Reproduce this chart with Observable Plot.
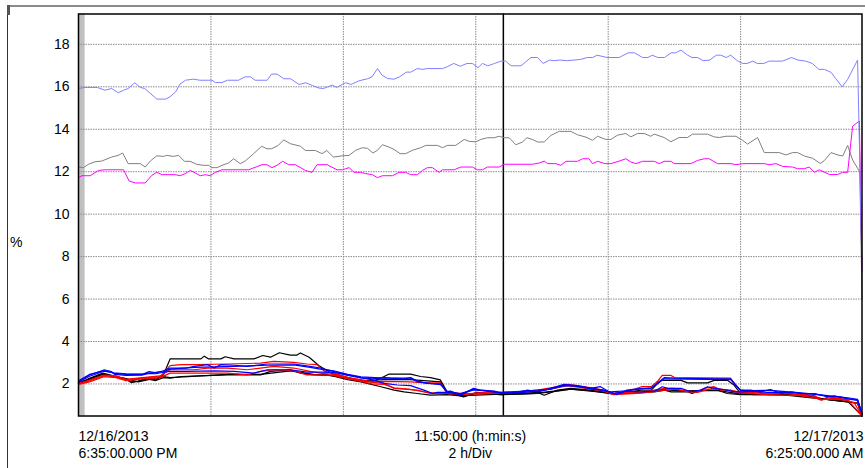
<!DOCTYPE html>
<html><head><meta charset="utf-8">
<script src="https://cdn.jsdelivr.net/npm/d3@7"></script>
<script src="https://cdn.jsdelivr.net/npm/@observablehq/plot@0.6"></script>
<style>
body{margin:0;background:#fff;font-family:"Liberation Sans",Arial,sans-serif;}
#wrap{position:relative;width:865px;height:468px;overflow:hidden;background:#fff;}
#frame{position:absolute;left:7px;top:5px;width:870px;height:480px;border-top:2px solid #8a8a8a;border-left:1px solid #333;box-sizing:border-box;}
#corner{position:absolute;left:7px;top:5px;width:3px;height:10px;background:#555;}
#chart{position:absolute;left:0;top:0;}
#ylab{position:absolute;left:10px;top:235px;font-size:14px;line-height:14px;color:#000;}
</style></head><body>
<div id="wrap"><div id="frame"></div><div id="corner"></div><div id="chart"></div><div id="ylab">%</div></div>
<script>
// time axis: minutes after 12/16/2013 6:35 PM
const startTime = Date.UTC(2013, 11, 16, 18, 35);
const spanMinutes = 710;
const gridMinutes = [120, 240, 360, 480, 600];
const cursorMinute = 385;
const bandMinutes = [0, 6];
const yTicks = [2, 4, 6, 8, 10, 12, 14, 16, 18];
const yDomain = [0.49, 19.43];
const xLabels = [
  {m: 0, text: "12/16/2013\n6:35:00.000 PM", anchor: "start"},
  {m: 355, text: "11:50:00 (h:min:s)\n2 h/Div", anchor: "middle"},
  {m: 710, text: "12/17/2013\n6:25:00.000 AM", anchor: "end"}
];

// series [minute, %]
const topBlue = [[0,15.92],[6,15.97],[17,15.97],[24,15.84],[30,15.92],[36,15.72],[41,15.84],[45,15.92],[51,16.19],[56,15.97],[60,15.92],[71,15.42],[79,15.42],[83,15.53],[88,15.76],[92,16.13],[97,16.31],[104,16.36],[110,16.31],[121,16.31],[124,16.2],[130,16.2],[135,16.31],[145,16.31],[151,16.47],[156,16.47],[160,16.31],[171,16.31],[175,16.6],[180,16.6],[186,16.38],[192,16.38],[200,16.11],[206,16.19],[212,16.06],[218,15.94],[222,15.92],[230,16.08],[234,15.97],[239,16.11],[242,16.19],[247,16.11],[254,16.28],[262,16.38],[266,16.47],[271,16.86],[275,16.55],[280,16.39],[286,16.36],[291,16.47],[297,16.69],[301,16.69],[307,16.86],[312,16.82],[316,16.86],[330,16.86],[334,16.94],[340,17.1],[346,16.97],[352,17.1],[357,17.1],[362,16.9],[366,17.1],[371,16.99],[377,17.1],[383,17.21],[387,17.21],[392,16.99],[401,16.99],[410,17.38],[416,17.38],[421,17.1],[427,17.26],[431,17.23],[436,17.26],[443,17.23],[455,17.29],[461,17.38],[466,17.38],[470,17.49],[479,17.38],[490,17.38],[498,17.6],[504,17.6],[511,17.38],[516,17.38],[520,17.49],[525,17.38],[531,17.38],[537,17.6],[541,17.6],[546,17.73],[552,17.49],[556,17.38],[561,17.38],[566,17.23],[572,17.26],[578,17.49],[582,17.49],[587,17.38],[591,17.49],[597,17.23],[602,17.1],[606,17.1],[611,17.21],[615,17.1],[621,17.1],[626,17.21],[638,17.21],[646,17.38],[652,17.26],[659,17.21],[665,17.1],[671,16.82],[676,16.82],[682,16.68],[686,16.4],[692,16.0],[697,16.35],[702,16.86],[706,17.26],[710,7.5]];
const topGray = [[0,12.22],[4.5,12.19],[9,12.35],[15,12.47],[21,12.5],[30,12.69],[36,12.77],[40,12.88],[45,12.38],[56,12.38],[60.5,12.22],[65,12.5],[71,12.75],[77,12.72],[80,12.77],[86,12.72],[90.7,12.77],[96,12.49],[101,12.49],[107,12.35],[113,12.3],[118,12.3],[121,12.19],[125.5,12.19],[130,12.3],[136,12.41],[140.6,12.61],[146.6,12.38],[151,12.5],[158.7,12.85],[166,13.2],[170.8,13.08],[175,13.08],[181,13.24],[186,13.5],[192,13.32],[201,13.2],[205.6,13.0],[214.6,13.0],[220.7,12.85],[225,13.0],[231,12.69],[239.4,12.75],[245.2,12.77],[251.2,13.01],[257.2,13.13],[261.8,13.1],[266.9,12.88],[270.9,13.01],[275.4,13.27],[281.4,13.16],[286,13.05],[291.4,12.85],[296.5,12.85],[302.6,13.01],[310.2,13.13],[314.7,13.24],[325.3,13.24],[329.8,13.13],[334.3,13.24],[341.9,13.24],[349.5,13.52],[354,13.43],[360,13.41],[364.6,13.52],[370.6,13.6],[376.7,13.6],[381.2,13.67],[385.7,13.6],[390.3,13.6],[396.3,13.27],[402.4,13.4],[406.3,13.6],[411.4,13.52],[416,13.4],[422,13.4],[428,13.71],[435.6,13.9],[446.2,13.9],[452.2,13.74],[459.8,13.63],[465.8,13.48],[470.4,13.67],[477.8,13.52],[482.4,13.52],[488.4,13.72],[496,13.8],[500.5,13.64],[506.5,13.8],[512.6,13.8],[518.6,13.67],[521.7,13.77],[530.7,13.61],[536.8,13.41],[544.3,13.61],[551.9,13.61],[556.4,13.77],[570,13.77],[576,13.64],[580.6,13.61],[586.7,13.67],[595.7,13.67],[601.8,13.48],[606.3,13.3],[615.4,13.61],[621.4,12.9],[635,12.9],[641,12.79],[647.1,12.9],[651.7,12.9],[657.7,12.74],[665.3,12.63],[672.2,12.39],[675.8,12.52],[681.9,12.9],[687.9,12.79],[692.5,12.74],[697,13.24],[701.5,12.55],[706,12.16],[708,11.99],[710,6.0]];
const topMagenta = [[0,11.72],[3,11.81],[10.6,11.81],[18.1,12.06],[24.2,12.09],[40.8,12.09],[45.9,11.56],[51.4,11.47],[60.5,11.47],[66.5,11.83],[71,11.97],[75.6,11.86],[87.7,11.86],[92.2,11.81],[96.7,11.91],[101.3,12.06],[105.8,11.94],[110.3,11.81],[114.9,11.86],[119.4,11.81],[124,11.97],[130,12.09],[154.2,12.09],[166.3,12.33],[170.8,12.33],[175.3,12.19],[179.9,12.3],[185,12.49],[190.4,12.33],[196.5,12.33],[205.6,12.06],[211.6,11.97],[216.1,12.33],[225.2,12.33],[234.3,12.09],[239.4,12.09],[242.1,12.14],[245.2,12.19],[249.7,11.97],[255.7,11.97],[260.3,11.91],[266.3,11.86],[270.9,11.72],[275.4,11.81],[284.5,11.81],[290.5,11.97],[296.5,11.97],[301.1,11.86],[307.1,11.86],[311.7,12.06],[316.2,12.19],[320.7,12.19],[326.8,11.97],[329.8,12.09],[340.4,12.09],[346.4,12.22],[357,12.22],[361.5,12.09],[366.1,12.09],[370.6,12.22],[381.2,12.22],[385.7,12.35],[411.4,12.35],[417.5,12.41],[422,12.5],[425,12.38],[432.6,12.38],[437.1,12.3],[441.7,12.49],[452.2,12.49],[456.8,12.61],[462.5,12.61],[465.8,12.38],[470.4,12.49],[477,12.38],[482.4,12.38],[490,12.5],[496,12.61],[500.5,12.46],[505,12.38],[511.1,12.49],[521.7,12.49],[526.2,12.38],[530.7,12.49],[536.8,12.49],[539.8,12.38],[554.9,12.38],[561,12.53],[567,12.61],[571.5,12.61],[579.1,12.38],[591.2,12.38],[595.7,12.33],[601.8,12.38],[621.4,12.38],[626,12.33],[632,12.38],[638,12.25],[647.1,12.22],[651.7,12.14],[657.7,12.14],[662.2,12.22],[666.8,11.97],[671.3,12.09],[680.4,11.87],[688,11.87],[692.5,11.97],[697,11.97],[701.5,14.14],[707.6,14.39],[710,7.3]];

const blue1 = [[0,2.12],[10,2.42],[23,2.66],[29,2.6],[32,2.5],[43,2.45],[58,2.45],[64,2.58],[70,2.52],[77,2.62],[83,2.75],[98,2.75],[105,2.83],[117,2.91],[123,2.75],[129,2.91],[141,2.88],[153,2.83],[171,2.94],[195,2.94],[210,2.83],[219,2.75],[231,2.59],[244,2.43],[256,2.3],[266,2.24],[277,2.3],[283,2.27],[295,2.24],[301,2.3],[307,2.14],[316,2.03],[328,2.0],[334,1.63],[337,1.66],[346,1.47],[358,1.79],[364,1.71],[377,1.66],[383,1.55],[398,1.6],[407,1.71],[416,1.63],[428,1.79],[440,1.98],[452,1.92],[464,1.79],[473,1.87],[482,1.6],[488,1.5],[497,1.71],[510,1.79],[519,1.79],[526,2.11],[531,2.3],[540,2.27],[576,2.24],[591,2.24],[597,1.87],[600,1.71],[609,1.71],[618,1.63],[627,1.74],[637,1.55],[646,1.63],[655,1.55],[667,1.55],[679,1.39],[685,1.44],[697,1.3],[706,1.22],[710,0.6]];
const blue2 = [[0,2.08],[10,2.36],[23,2.6],[30,2.56],[33,2.45],[43,2.4],[58,2.42],[64,2.5],[70,2.48],[77,2.55],[83,2.59],[98,2.59],[123,2.62],[141,2.59],[159,2.51],[171,2.67],[192,2.67],[207,2.56],[219,2.56],[231,2.55],[244,2.4],[256,2.28],[266,2.2],[277,2.03],[289,1.95],[301,1.92],[313,1.71],[321,1.55],[325,1.6],[334,1.6],[346,1.52],[358,1.72],[366,1.68],[383,1.58],[398,1.58],[416,1.66],[428,1.75],[440,1.92],[452,1.9],[464,1.77],[476,1.7],[485,1.56],[497,1.66],[510,1.63],[522,1.66],[529,1.87],[534,1.79],[546,1.79],[555,1.63],[564,1.71],[570,1.87],[576,1.79],[588,1.71],[594,1.63],[600,1.63],[612,1.66],[624,1.6],[640,1.6],[655,1.55],[667,1.52],[679,1.42],[691,1.38],[700,1.28],[706,1.25],[710,0.58]];
const blue3 = [[0,2.15],[10,2.45],[23,2.62],[32,2.52],[43,2.48],[58,2.47],[70,2.55],[77,2.58],[83,2.7],[105,2.78],[123,2.8],[141,2.83],[171,2.88],[195,2.9],[210,2.78],[219,2.7],[231,2.62],[244,2.45],[256,2.33],[277,2.27],[301,2.27],[307,2.1],[328,1.97],[334,1.66],[346,1.55],[358,1.74],[383,1.6],[407,1.68],[428,1.76],[440,1.95],[464,1.82],[482,1.63],[497,1.68],[519,1.82],[531,2.24],[591,2.2],[600,1.68],[627,1.7],[655,1.58],[679,1.45],[697,1.35],[706,1.27],[710,0.62]];
const red1 = [[0,2.0],[10,2.14],[23,2.38],[34,2.35],[43,2.19],[58,2.27],[74,2.35],[77,2.51],[83,2.86],[93,2.91],[105,2.91],[135,2.94],[165,2.98],[177,3.06],[195,3.02],[207,2.94],[216,2.91],[223,2.6],[232,2.5],[244,2.3],[256,2.2],[266,2.1],[277,2.12],[301,2.1],[316,2.05],[328,2.05],[334,1.55],[361,1.55],[383,1.6],[398,1.63],[416,1.71],[434,1.87],[443,1.98],[458,1.87],[476,1.71],[485,1.55],[497,1.63],[510,1.87],[519,1.87],[525,2.14],[529,2.4],[537,2.4],[540,2.3],[591,2.27],[594,2.03],[600,1.71],[612,1.63],[625,1.55],[637,1.63],[649,1.5],[661,1.5],[673,1.23],[679,1.39],[691,1.31],[703,1.1],[710,0.5]];
const red2 = [[0,2.02],[10,2.18],[23,2.42],[34,2.38],[43,2.22],[58,2.3],[74,2.38],[83,2.67],[105,2.67],[117,2.75],[135,2.75],[153,2.67],[165,2.75],[177,2.83],[195,2.75],[210,2.59],[219,2.51],[231,2.45],[244,2.3],[256,2.15],[266,2.08],[277,2.03],[286,1.79],[295,1.76],[307,1.71],[319,1.55],[334,1.55],[349,1.5],[361,1.58],[383,1.58],[398,1.6],[416,1.68],[434,1.84],[443,1.95],[458,1.85],[476,1.68],[485,1.52],[497,1.6],[510,1.6],[522,1.71],[531,1.79],[540,1.79],[552,1.63],[561,1.63],[567,1.79],[576,1.87],[582,1.71],[591,1.71],[600,1.6],[612,1.6],[625,1.52],[640,1.58],[655,1.47],[667,1.45],[673,1.25],[685,1.33],[697,1.22],[706,1.08],[710,0.52]];
const red3 = [[0,1.98],[10,2.1],[23,2.34],[34,2.3],[43,2.16],[58,2.24],[74,2.3],[83,2.51],[105,2.51],[135,2.51],[153,2.43],[165,2.59],[177,2.67],[195,2.62],[207,2.43],[219,2.43],[231,2.4],[244,2.25],[256,2.12],[266,2.0],[277,1.98],[286,1.82],[301,1.74],[319,1.58],[334,1.58],[361,1.52],[383,1.57],[416,1.66],[434,1.82],[443,1.92],[476,1.66],[485,1.5],[510,1.57],[540,1.75],[561,1.6],[576,1.82],[600,1.58],[625,1.5],[655,1.45],[673,1.28],[697,1.25],[710,0.5]];
const black1 = [[0,2.0],[10,2.27],[22,2.51],[31,2.4],[43,2.24],[48,2.06],[54,2.14],[62,2.27],[70,2.19],[77,2.43],[83,3.18],[111,3.18],[114,3.31],[118,3.18],[129,3.18],[133,3.28],[141,3.18],[159,3.18],[167,3.34],[174,3.26],[182,3.47],[192,3.36],[198,3.36],[201,3.46],[209,3.26],[218,2.86],[229,2.51],[241,2.35],[256,2.14],[266,2.1],[277,2.35],[281,2.46],[301,2.46],[310,2.35],[319,2.3],[328,2.19],[334,1.63],[349,1.39],[361,1.6],[383,1.5],[404,1.55],[416,1.6],[422,1.47],[434,1.71],[446,1.79],[464,1.71],[476,1.63],[485,1.55],[497,1.6],[510,1.71],[519,1.71],[525,2.03],[528,2.17],[546,2.17],[552,2.05],[570,2.05],[576,2.17],[588,2.17],[594,1.95],[600,1.55],[612,1.5],[624,1.5],[637,1.5],[649,1.47],[661,1.44],[673,1.31],[685,1.23],[697,1.15],[706,1.1],[710,0.5]];
const black2 = [[0,2.02],[10,2.24],[22,2.47],[31,2.36],[43,2.2],[48,2.1],[54,2.12],[62,2.24],[70,2.16],[77,2.3],[83,2.27],[93,2.35],[135,2.43],[165,2.43],[174,2.59],[192,2.67],[201,2.51],[213,2.43],[226,2.43],[232,2.35],[244,2.2],[256,2.1],[274,1.87],[286,1.71],[295,1.63],[307,1.55],[319,1.47],[334,1.5],[349,1.42],[361,1.55],[383,1.5],[404,1.52],[416,1.55],[434,1.66],[446,1.76],[464,1.68],[485,1.52],[510,1.6],[522,1.63],[531,1.71],[537,1.63],[552,1.63],[556,1.55],[564,1.71],[579,1.71],[588,1.55],[600,1.5],[612,1.5],[637,1.5],[661,1.44],[673,1.31],[685,1.23],[697,1.15],[706,1.1],[710,0.48]];
const black3 = [[0,2.05],[22,2.45],[43,2.25],[54,2.1],[77,2.35],[83,2.3],[135,2.45],[165,2.45],[192,2.62],[213,2.45],[232,2.38],[256,2.15],[277,2.2],[301,2.2],[328,2.1],[334,1.55],[349,1.45],[383,1.52],[416,1.58],[446,1.75],[485,1.55],[510,1.6],[528,1.73],[546,1.67],[579,1.7],[600,1.52],[637,1.5],[673,1.3],[697,1.18],[710,0.5]];

const seriesList = [
  {pts: black3, color: "#000000", w: 1.2},
  {pts: black2, color: "#000000", w: 1.2},
  {pts: black1, color: "#000000", w: 1.2},
  {pts: red3, color: "#ff0000", w: 1.2},
  {pts: red2, color: "#ff0000", w: 1.2},
  {pts: red1, color: "#ff0000", w: 1.2},
  {pts: blue3, color: "#0000ff", w: 1.2},
  {pts: blue2, color: "#0000ff", w: 1.2},
  {pts: blue1, color: "#0000ff", w: 1.2},
  {pts: topGray, color: "#808080", w: 1},
  {pts: topMagenta, color: "#ff00ff", w: 1},
  {pts: topBlue, color: "#8080ff", w: 1}
];

const T = m => new Date(startTime + m * 60000);

const lineMarks = seriesList.map(s =>
  Plot.line(s.pts.map(([m, v]) => ({t: T(m), v})), {x: "t", y: "v", stroke: s.color, strokeWidth: s.w, strokeLinejoin: "round"})
);

const textMarks = ["start", "middle", "end"].map(a =>
  Plot.text(xLabels.filter(d => d.anchor === a), {x: d => T(d.m), text: "text", textAnchor: a, frameAnchor: "bottom", lineAnchor: "top", dy: 12.5, dx: a === "end" ? 1.5 : 0, lineHeight: 1.25, fontSize: 14, fill: "#000"})
);

const chart = Plot.plot({
  width: 865,
  height: 468,
  marginLeft: 78,
  marginRight: 3.5,
  marginTop: 13.5,
  marginBottom: 52.5,
  style: {fontFamily: "'Liberation Sans', Arial, sans-serif", fontSize: "14px", background: "transparent", color: "#000", overflow: "visible"},
  x: {type: "utc", domain: [T(0), T(spanMinutes)], axis: null},
  y: {domain: yDomain},
  marks: [
    Plot.rect([{a: T(bandMinutes[0]), b: T(bandMinutes[1])}], {x1: "a", x2: "b", fill: "#c0c0c0"}),
    Plot.ruleY(yTicks, {stroke: "#8c8c8c", strokeDasharray: "1.5,1"}),
    Plot.ruleX(gridMinutes.map(T), {stroke: "#8c8c8c", strokeDasharray: "1.5,1"}),
    Plot.ruleX([T(cursorMinute)], {stroke: "#000", strokeWidth: 1.5}),
    ...lineMarks,
    Plot.axisY(yTicks, {tickSize: 0, tickPadding: 9, fontSize: 14, label: null}),
    Plot.frame({stroke: "#000", strokeWidth: 1.5}),
    ...textMarks
  ]
});
document.getElementById("chart").appendChild(chart);
</script>
</body></html>
